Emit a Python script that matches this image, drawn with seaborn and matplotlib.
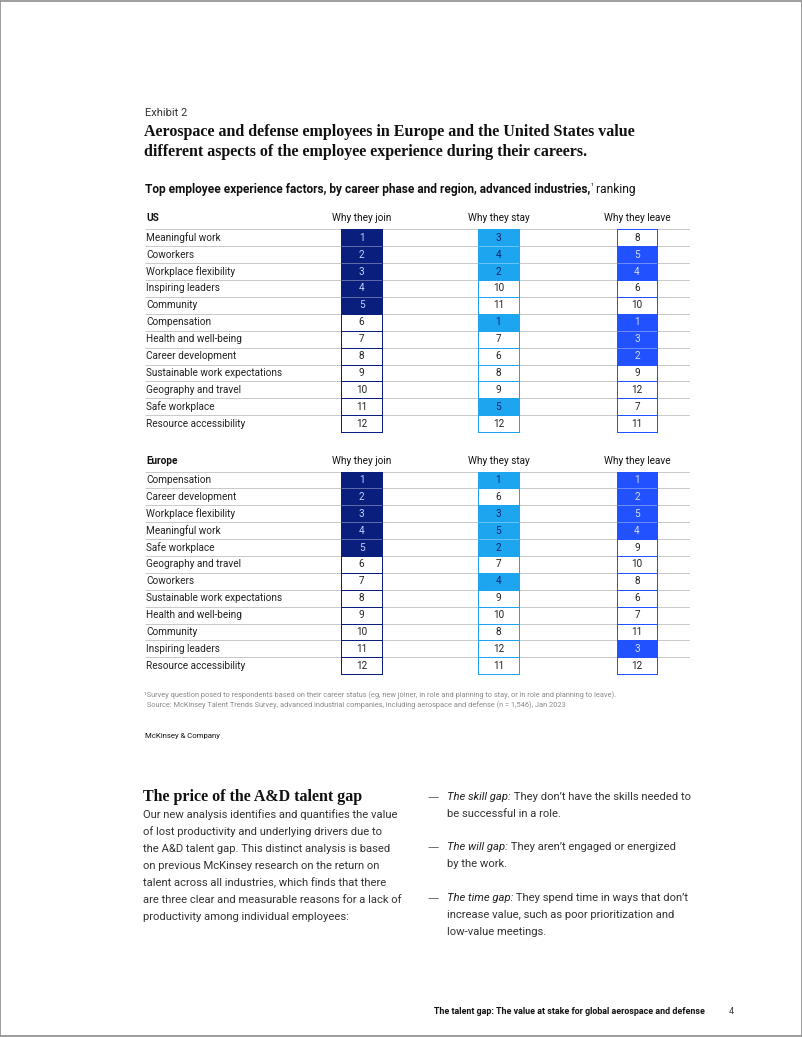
import numpy as np
import pandas as pd
import matplotlib.pyplot as plt
from matplotlib.colors import ListedColormap
from matplotlib.patches import Rectangle
import seaborn as sns

# ---- data ----
us_factors = ['Meaningful work', 'Coworkers', 'Workplace flexibility', 'Inspiring leaders',
              'Community', 'Compensation', 'Health and well-being', 'Career development',
              'Sustainable work expectations', 'Geography and travel', 'Safe workplace',
              'Resource accessibility']
us_join = [1, 2, 3, 4, 5, 6, 7, 8, 9, 10, 11, 12]
us_stay = [3, 4, 2, 10, 11, 1, 7, 6, 8, 9, 5, 12]
us_leave = [8, 5, 4, 6, 10, 1, 3, 2, 9, 12, 7, 11]

eu_factors = ['Compensation', 'Career development', 'Workplace flexibility', 'Meaningful work',
              'Safe workplace', 'Geography and travel', 'Coworkers',
              'Sustainable work expectations', 'Health and well-being', 'Community',
              'Inspiring leaders', 'Resource accessibility']
eu_join = [1, 2, 3, 4, 5, 6, 7, 8, 9, 10, 11, 12]
eu_stay = [1, 6, 3, 5, 2, 7, 4, 9, 10, 8, 12, 11]
eu_leave = [1, 2, 5, 4, 9, 10, 8, 6, 7, 11, 3, 12]

phases = ['Why they join', 'Why they stay', 'Why they leave']
top_n = 5

# ---- style ----
sns.set_theme(style='white')
plt.rcParams['font.family'] = ['Roboto', 'DejaVu Sans']
SERIF = ['Liberation Serif', 'DejaVu Serif']

phase_colors = ['#0a1f7d', '#1ea5f0', '#2251ff']
num_on_color = ['#c4d0ff', '#0b2470', '#d2dcff']
ink = '#222222'
grid_col = '#c9c9c9'
tab_fs = 7.2
body_fs = 8.1

W, H = 802, 1037
fig = plt.figure(figsize=(W / 100, H / 100), dpi=100)
renderer = fig.canvas.get_renderer()


def fx(x):
    return x / W


def fy(y):
    return 1 - y / H


def text_runs(x, y, parts, **kw):
    """Draw consecutive text pieces with different styles on one line."""
    for txt, style in parts:
        opts = dict(kw)
        opts.update(style)
        dy = opts.pop('dy', 0)
        t = fig.text(fx(x), fy(y + dy), txt, va='center', ha='left', **opts)
        bb = t.get_window_extent(renderer)
        x = bb.x1 * W / fig.bbox.width
    return x


col_boxes = [(341, 382), (478, 519), (617, 657)]
row_x0, row_x1 = 145, 690


def draw_table(region, factors, cols, header_y, top_y, row_h):
    n = len(factors)
    bottom_y = top_y + n * row_h
    # header
    fig.text(fx(146), fy(header_y), region, fontsize=tab_fs, fontweight='bold',
             color='#111111', va='center')
    for (x0, x1), name in zip(col_boxes, phases):
        fig.text(fx((x0 + x1) / 2), fy(header_y), name, fontsize=tab_fs,
                 color='#111111', va='center', ha='center')

    # row labels and separator lines
    bg = fig.add_axes([fx(row_x0), fy(bottom_y), (row_x1 - row_x0) / W, (bottom_y - top_y) / H])
    bg.set_xlim(row_x0, row_x1)
    bg.set_ylim(n, 0)
    bg.axis('off')
    bg.hlines(np.arange(n + 1), row_x0, row_x1, color=grid_col, lw=0.7)
    for i, lab in enumerate(factors):
        bg.text(row_x0 + 1.5, i + 0.5, lab, fontsize=tab_fs, color=ink, va='center')

    # ranking columns as one-column heatmaps
    for k, ((x0, x1), ranks) in enumerate(zip(col_boxes, cols)):
        ax = fig.add_axes([fx(x0), fy(bottom_y), (x1 - x0) / W, (bottom_y - top_y) / H])
        ranks = np.array(ranks)
        hot = pd.DataFrame({'hot': (ranks <= top_n).astype(float)}, index=factors)
        sns.heatmap(hot, ax=ax, cmap=ListedColormap(['white', phase_colors[k]]),
                    vmin=0, vmax=1, cbar=False, linewidths=0.6,
                    linecolor=phase_colors[k], xticklabels=False, yticklabels=False)
        ax.collections[0].set_clip_on(False)
        # faint separators between stacked coloured cells
        for i in range(1, n):
            if ranks[i - 1] <= top_n and ranks[i] <= top_n:
                ax.hlines(i, 0, 1, color='white', alpha=0.35, lw=0.7)
        for i, r in enumerate(ranks):
            c = num_on_color[k] if r <= top_n else ink
            ax.text(0.5, i + 0.5, str(r), ha='center', va='center', fontsize=tab_fs, color=c)
        ax.set_xlabel('')
        ax.set_ylabel('')


# ---- heading ----
fig.text(fx(145), fy(113), 'Exhibit 2', fontsize=8.0, color='#333333', va='center')
fig.text(fx(144), fy(132), 'Aerospace and defense employees in Europe and the United States value',
         fontsize=11.5, fontweight='bold', family=SERIF, color='#111111', va='center')
fig.text(fx(144), fy(152), 'different aspects of the employee experience during their careers.',
         fontsize=11.5, fontweight='bold', family=SERIF, color='#111111', va='center')
text_runs(145, 190, [
    ('Top employee experience factors, by career phase and region, advanced industries,',
     dict(fontweight='bold')),
    ('\u00b9', dict(fontsize=5.5, fontweight='normal', dy=-3)),
    (' ranking', dict(fontweight='normal')),
], fontsize=8.6, color='#111111')

draw_table('US', us_factors, [us_join, us_stay, us_leave], 218, 229.3, 16.9)
draw_table('Europe', eu_factors, [eu_join, eu_stay, eu_leave], 461, 471.5, 16.9)

# ---- notes ----
fig.text(fx(144), fy(695),
         '\u00b9Survey question posed to respondents based on their career status (eg, new joiner, '
         'in role and planning to stay, or in role and planning to leave).',
         fontsize=5.3, color='#8a8a8a', va='center')
fig.text(fx(145), fy(705),
         ' Source: McKinsey Talent Trends Survey, advanced industrial companies, including '
         'aerospace and defense (n = 1,546), Jan 2023',
         fontsize=5.3, color='#8a8a8a', va='center')
fig.text(fx(145), fy(736), 'McKinsey & Company', fontsize=5.6, color='#111111', va='center')

# ---- body copy ----
fig.text(fx(143), fy(797), 'The price of the A&D talent gap', fontsize=11.5,
         fontweight='bold', family=SERIF, color='#111111', va='center')
body = ['Our new analysis identifies and quantifies the value',
        'of lost productivity and underlying drivers due to',
        'the A&D talent gap. This distinct analysis is based',
        'on previous McKinsey research on the return on',
        'talent across all industries, which finds that there',
        'are three clear and measurable reasons for a lack of',
        'productivity among individual employees:']
for i, line in enumerate(body):
    fig.text(fx(143), fy(815 + i * 17), line, fontsize=body_fs, color='#333333', va='center')

bullets = [
    ('The skill gap:', [' They don\u2019t have the skills needed to', 'be successful in a role.'], 797),
    ('The will gap:', [' They aren\u2019t engaged or energized', 'by the work.'], 847),
    ('The time gap:', [' They spend time in ways that don\u2019t',
                       'increase value, such as poor prioritization and',
                       'low-value meetings.'], 898),
]
for head, lines, y0 in bullets:
    fig.text(fx(427), fy(y0), '\u2014', fontsize=body_fs, color='#555555', va='center',
             family='DejaVu Sans')
    text_runs(447, y0, [(head, dict(style='italic', color='#222222')),
                        (lines[0], dict(color='#333333'))], fontsize=body_fs)
    for j, line in enumerate(lines[1:], start=1):
        fig.text(fx(447), fy(y0 + j * 17), line, fontsize=body_fs, color='#333333', va='center')

# ---- footer ----
fig.text(fx(434), fy(1012), 'The talent gap: The value at stake for global aerospace and defense',
         fontsize=6.4, fontweight='bold', color='#111111', va='center')
fig.text(fx(729), fy(1012), '4', fontsize=6.4, color='#333333', va='center')

fig.patches.append(Rectangle((0.0005, 0.0005), 0.999, 0.999, transform=fig.transFigure,
                             fill=False, edgecolor='#8c8c8c', lw=1.2))

fig.savefig('out.png', dpi=100, facecolor='white')
